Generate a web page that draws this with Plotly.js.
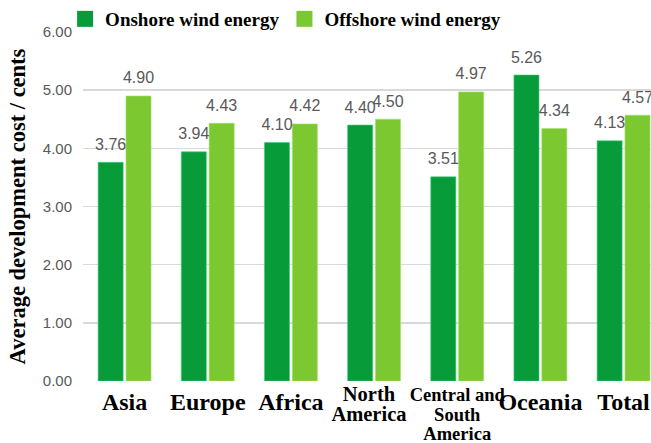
<!DOCTYPE html>
<html>
<head>
<meta charset="utf-8">
<script src="https://cdn.plot.ly/plotly-3.0.1.min.js"></script>
<style>html,body{margin:0;padding:0;background:#fff}#chart{width:651px;height:443px}</style>
</head>
<body>
<div id="chart"></div>
<script>
const categories = ["Asia", "Europe", "Africa", "North America", "Central and South America", "Oceania", "Total"];
const NB = "\u00A0\u00A0";
const tickLabels = [
  "<span style='font-size:24px'>Asia</span>",
  "<span style='font-size:24px'>Europe</span>",
  "<span style='font-size:24px'>Africa</span>",
  "<span style='font-size:20.5px'>North" + NB + "</span><br><span style='font-size:20.5px'>America" + NB + "</span>",
  "<span style='font-size:18.5px'>Central and</span><br><span style='font-size:18.5px'>South</span><br><span style='font-size:18.5px'>America</span>",
  "<span style='font-size:24px'>Oceania</span>",
  "<span style='font-size:24px'>Total</span>"
];
const onshore = [3.76, 3.94, 4.10, 4.40, 3.51, 5.26, 4.13];
const offshore = [4.90, 4.43, 4.42, 4.50, 4.97, 4.34, 4.57];
const seriesNames = ["Onshore wind energy", "Offshore wind energy"];
const seriesColors = ["#079b3a", "#7cc830"];
const edgeColors = ["#3fd07a", "#a6e070"];

const xIdx = categories.map((c, i) => i);
const multiLine = tickLabels.map(t => t.indexOf("<br>") >= 0);
const labelFont = {family: "Liberation Sans, Arial, sans-serif", size: 16, color: "#595959"};
const values = [onshore, offshore];

const traces = [];
values.forEach((vals, k) => {
  traces.push({type: "bar", name: seriesNames[k], x: xIdx, y: vals,
    alignmentgroup: "g", offsetgroup: "s" + k, showlegend: false,
    marker: {color: seriesColors[k], line: {color: edgeColors[k], width: 0.6}},
    hoverinfo: "skip"});
});
values.forEach((vals, k) => {
  traces.push({type: "scatter", mode: "markers+text", name: seriesNames[k] + " labels", x: xIdx, y: vals,
    alignmentgroup: "g", offsetgroup: "s" + k, showlegend: false,
    marker: {size: 12, color: "rgba(0,0,0,0)"},
    text: vals.map(v => v.toFixed(2)), textposition: "top center", textfont: labelFont,
    cliponaxis: false, hoverinfo: "skip"});
});
values.forEach((vals, k) => {
  traces.push({type: "scatter", mode: "markers", name: seriesNames[k], x: [null], y: [null],
    xaxis: "x2", yaxis: "y", showlegend: true,
    marker: {symbol: "square", size: 16, color: seriesColors[k]}, hoverinfo: "skip"});
});

const xRange = [-0.5, 6.33];
const serif = "Liberation Serif, Times New Roman, serif";

const layout = {
  width: 651, height: 443,
  margin: {l: 83, r: 0, t: 32, b: 62, autoexpand: false},
  paper_bgcolor: "#fff", plot_bgcolor: "#fff",
  barmode: "group", bargap: 0.33, bargroupgap: 0.1,
  scattermode: "group", scattergap: 0.33,
  showlegend: true,
  legend: {orientation: "h", xref: "container", yref: "container", x: 0.1, xanchor: "left", y: 1.0, yanchor: "top",
    font: {family: serif, size: 19, color: "#000", weight: "bold"},
    itemwidth: 30, tracegroupgap: 0, bgcolor: "rgba(0,0,0,0)"},
  xaxis: {
    range: xRange, tickmode: "array",
    tickvals: xIdx.filter(i => !multiLine[i]), ticktext: tickLabels.filter((t, i) => !multiLine[i]),
    showgrid: false, zeroline: false, showline: false, ticks: "",
    tickfont: {family: serif, size: 15, color: "#000", weight: "bold"},
    tickangle: 0, ticklabelstandoff: 13, fixedrange: true
  },
  xaxis2: {
    overlaying: "x", anchor: "y", side: "bottom",
    range: xRange, tickmode: "array",
    tickvals: xIdx.filter(i => multiLine[i]), ticktext: tickLabels.filter((t, i) => multiLine[i]),
    showgrid: false, zeroline: false, showline: false, ticks: "",
    tickfont: {family: serif, size: 15, color: "#000", weight: "bold"},
    tickangle: 0, ticklabelstandoff: 4, fixedrange: true
  },
  yaxis: {
    range: [0, 6], tickvals: [0, 1, 2, 3, 4, 5, 6], tickformat: ".2f",
    showgrid: true, gridcolor: "#d9d9d9", gridwidth: 1.5, zeroline: false, showline: false,
    ticks: "", ticklabelstandoff: 10,
    tickfont: {family: "Liberation Sans, Arial, sans-serif", size: 15, color: "#595959"},
    title: {text: "Average development cost / cents", standoff: 10,
      font: {family: serif, size: 22.5, color: "#000", weight: "bold"}},
    fixedrange: true
  }
};

Plotly.newPlot("chart", traces, layout, {displayModeBar: false, staticPlot: true});
</script>
</body>
</html>
